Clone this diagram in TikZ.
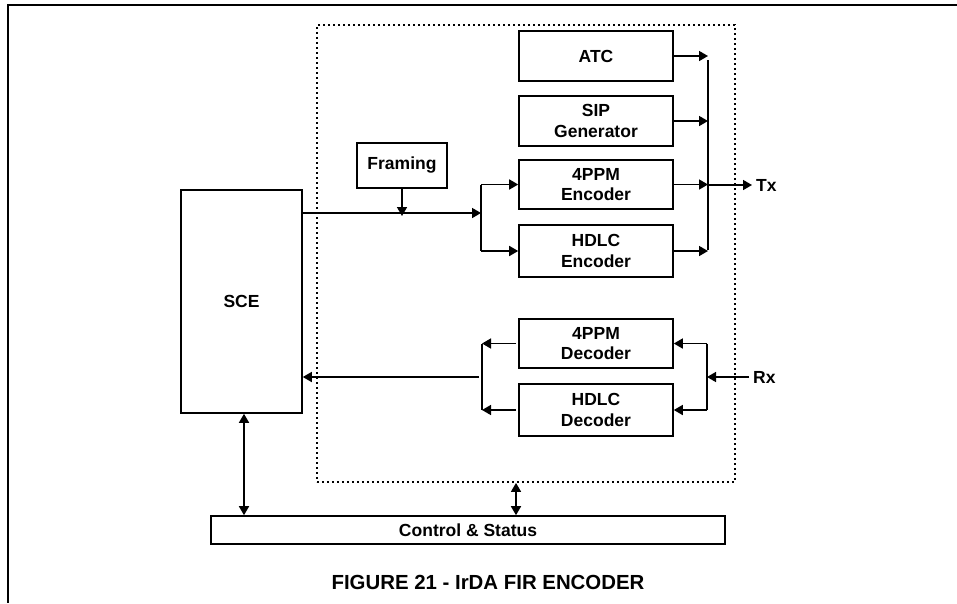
\documentclass[tikz,border=0pt]{standalone}
\usepackage{fontspec}
\setmainfont{Liberation Sans}
\usetikzlibrary{arrows.meta}
\begin{document}
\begin{tikzpicture}[x=1pt,y=-1pt,
  blk/.style={draw, line width=1.6pt, inner sep=0pt, align=center,
    font=\fontsize{17.5}{20.5}\selectfont\bfseries},
  lbl/.style={inner sep=4pt, font=\fontsize{17.5}{20.5}\selectfont\bfseries},
  wire/.style={line width=1.6pt},
  arr/.style={line width=1.6pt, -{Triangle[length=9pt,width=10pt]}},
  darr/.style={line width=1.6pt, {Triangle[length=9pt,width=10pt]}-{Triangle[length=9pt,width=10pt]}},
  grpbox/.style={draw, line width=1.8pt, dash pattern=on 2.4pt off 2.6pt, inner sep=0pt}]
\useasboundingbox (0,0) rectangle (957,603);
% outer frame
\draw[line width=2.5pt] (957,5) -- (8,5) -- (8,603);
% dotted group
\node[grpbox, minimum width=418pt, minimum height=457pt] (grp) at (526,253.5) {};
% blocks
\node[blk, minimum width=90pt, minimum height=45pt] (framing) at (402,165.5) {Framing};
\node[blk, minimum width=121pt, minimum height=223pt] (sce) at (241.5,301.5) {SCE};
\node[blk, minimum width=154pt, minimum height=50pt] (atc) at (596,56) {ATC};
\node[blk, minimum width=154pt, minimum height=50pt] (sip) at (596,121) {SIP\\Generator};
\node[blk, minimum width=154pt, minimum height=49pt] (enc4) at (596,184.5) {4PPM\\Encoder};
\node[blk, minimum width=154pt, minimum height=52pt] (ench) at (596,251) {HDLC\\Encoder};
\node[blk, minimum width=154pt, minimum height=49pt] (dec4) at (596,343.5) {4PPM\\Decoder};
\node[blk, minimum width=154pt, minimum height=52pt] (dech) at (596,410) {HDLC\\Decoder};
\node[blk, minimum width=514pt, minimum height=28pt] (cs) at (468,530) {Control \& Status};
\node[lbl, anchor=west] (tx) at (752,185) {Tx};
\node[lbl, anchor=west] (rx) at (749,377) {Rx};
\node[font=\fontsize{20.4}{24}\selectfont\bfseries] (cap) at (488,582) {FIGURE 21 - IrDA FIR ENCODER};
% helper coordinates
\coordinate (mainy) at (0,213);
\coordinate (efork) at (481,0);
\coordinate (txbus) at (708,0);
\coordinate (rxbus) at (707,0);
\coordinate (dfork) at (482,0);
\coordinate (dstart) at (479,377);
\coordinate (gcx) at (516,0);
% transmit path
\draw[arr] (sce.east |- mainy) -- (efork |- mainy);
\draw[arr] (framing.south) -- ([yshift=-3pt]framing.south |- mainy);
\draw[wire] (efork |- enc4.west) -- (efork |- ench.west);
\draw[arr] (efork |- enc4.west) -- (enc4.west);
\draw[arr] (efork |- ench.west) -- (ench.west);
\draw[wire] ([yshift=-4pt]txbus |- atc.east) -- ([yshift=1pt]txbus |- ench.east);
\draw[arr] (atc.east) -- (txbus |- atc.east);
\draw[arr] (sip.east) -- (txbus |- sip.east);
\draw[arr] (enc4.east) -- (txbus |- enc4.east);
\draw[arr] (ench.east) -- (txbus |- ench.east);
\draw[arr] (txbus |- tx.west) -- (tx.west);
% receive path
\draw[arr] (rx.west) -- (rxbus |- rx.west);
\draw[wire] (rxbus |- dec4.east) -- (rxbus |- dech.east);
\draw[arr] (rxbus |- dec4.east) -- (dec4.east);
\draw[arr] (rxbus |- dech.east) -- (dech.east);
\draw[arr] ([xshift=-2pt]dec4.west) -- (dfork |- dec4.west);
\draw[arr] ([xshift=-2pt]dech.west) -- (dfork |- dech.west);
\draw[wire] (dfork |- dec4.west) -- (dfork |- dech.west);
\draw[arr] (dstart) -- (sce.east |- dstart);
% control
\draw[darr] ([xshift=2.5pt]sce.south) -- ([xshift=2.5pt]sce.south |- cs.north);
\draw[darr] (gcx |- grp.south) -- (gcx |- cs.north);
\end{tikzpicture}
\end{document}
